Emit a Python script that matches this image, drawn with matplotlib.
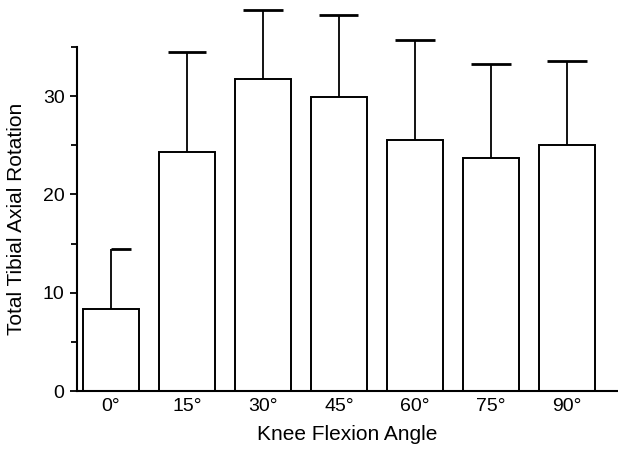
import matplotlib
matplotlib.use("Agg")
import matplotlib.pyplot as plt
from matplotlib.ticker import MultipleLocator

# ================= DATOS =================
angles = ["0°", "15°", "30°", "45°", "60°", "75°", "90°"]
means = [8.3, 24.3, 31.7, 29.9, 25.5, 23.7, 25.0]
sd = [6.2, 10.2, 7.1, 8.4, 10.2, 9.6, 8.6]
# extension del cap a cada lado (en el original el de 0° solo sale a la derecha)
cap_left = [0.0, 0.25, 0.26, 0.26, 0.26, 0.26, 0.26]
cap_right = [0.26, 0.25, 0.26, 0.25, 0.26, 0.26, 0.26]

plt.rcParams["font.family"] = ["Liberation Sans", "DejaVu Sans"]

fig = plt.figure(figsize=(6.18, 4.5), dpi=100)
ax = fig.add_axes([0.1246, 0.131, 0.8754, 0.852])

x = list(range(len(angles)))
ax.bar(x, means, width=0.74, color="white", edgecolor="black", linewidth=1.4, zorder=2)

# barra de error solo hacia arriba
tops = [m + s for m, s in zip(means, sd)]
ax.vlines(x, means, tops, color="black", linewidth=1.3, zorder=3)
ax.hlines(tops, [xi - l for xi, l in zip(x, cap_left)],
          [xi + r for xi, r in zip(x, cap_right)], color="black", linewidth=2.0, zorder=3)

ax.set_xlim(-0.447, 6.67)
ax.set_ylim(0, 39)

for side in ("top", "right"):
    ax.spines[side].set_visible(False)
ax.spines["left"].set_bounds(0, 35)
ax.spines["left"].set_linewidth(1.5)
ax.spines["bottom"].set_linewidth(1.5)

ax.yaxis.set_minor_locator(MultipleLocator(5))
ax.set_yticks([0, 10, 20, 30])
ax.tick_params(axis="y", which="major", direction="out", length=5, width=1.3, labelsize=14, pad=4)
ax.tick_params(axis="y", which="minor", direction="out", length=4, width=1.3)
ax.set_xticks(x)
ax.set_xticklabels(angles)
ax.tick_params(axis="x", length=0, labelsize=14, pad=5)

ax.set_ylabel("Total Tibial Axial Rotation", fontsize=15)
ax.yaxis.set_label_coords(-0.094, 17.5 / 39)
ax.set_xlabel("Knee Flexion Angle", fontsize=15, labelpad=7)

fig.savefig("out.png", dpi=100)
